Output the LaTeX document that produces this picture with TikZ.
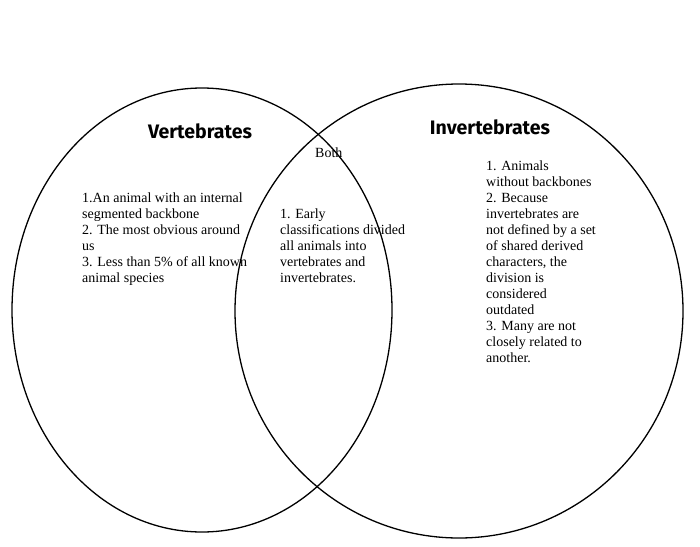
\documentclass[tikz,border=0pt]{standalone}
\usepackage{fontspec}
\setmainfont{Liberation Serif}
\newfontfamily\titlefont{Fira Sans}
\begin{document}
\begin{tikzpicture}[x=1pt,y=-1pt,
  txt/.style={anchor=north west,align=left,inner sep=0pt,font=\fontsize{14}{16}\selectfont},
  ttl/.style={font=\titlefont\bfseries\fontsize{19.5}{22}\selectfont},
  ring/.style={draw,line width=1.3pt}]
\useasboundingbox (0,0) rectangle (700,546);
\draw[ring] (202,310) ellipse [x radius=190,y radius=222];
\draw[ring] (459,311) ellipse [x radius=224,y radius=227];
\node[ttl] (v) at (200,131) {Vertebrates};
\node[ttl] (i) at (490,127) {Invertebrates};
\node[txt] (b) at (315,148) {Both};
\node[txt] (l) at (82,193) {1.An animal with an internal\\segmented backbone\\2. The most obvious around\\us\\3. Less than 5\% of all known\\animal species};
\node[txt] (m) at (280,209) {1. Early\\classifications divided\\all animals into\\vertebrates and\\invertebrates.};
\node[txt] (r) at (486,161) {1. Animals\\without backbones\\2. Because\\invertebrates are\\not defined by a set\\of shared derived\\characters, the\\division is\\considered\\outdated\\3. Many are not\\closely related to\\another.};
\end{tikzpicture}
\end{document}
